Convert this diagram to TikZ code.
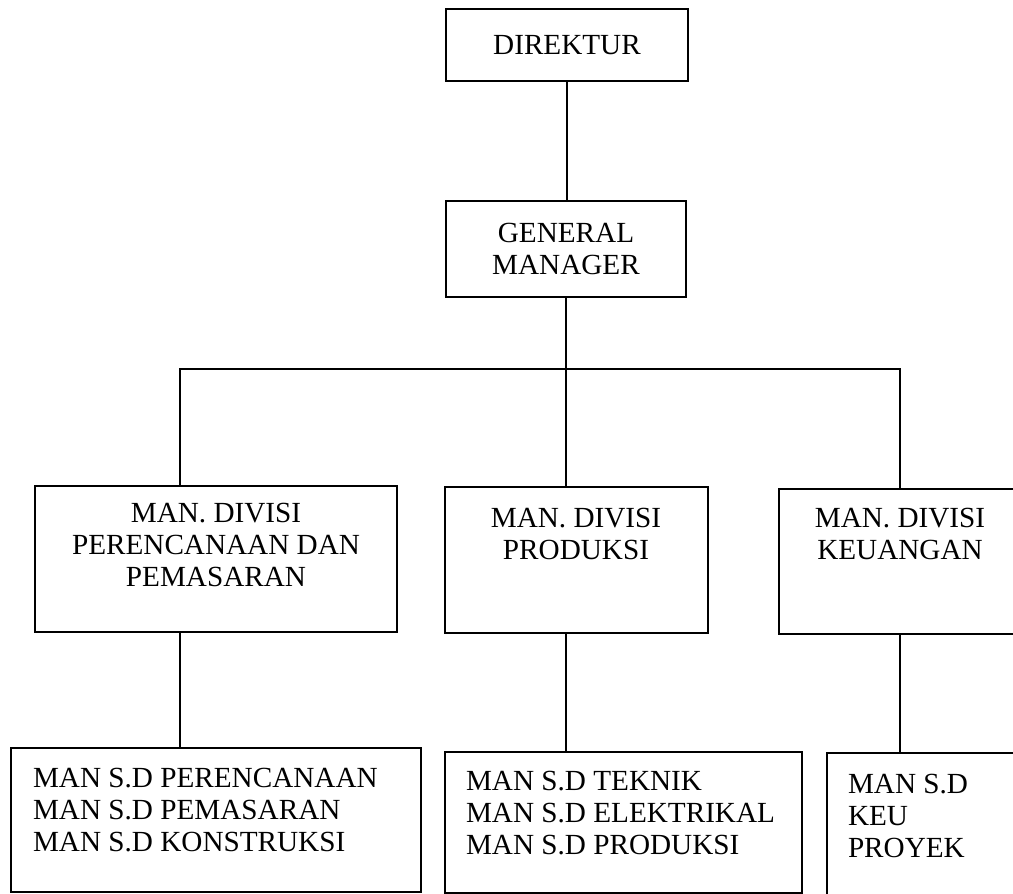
\documentclass[tikz,border=0pt]{standalone}
\usepackage{fontspec}
\setmainfont{Liberation Serif}
\usetikzlibrary{positioning}

\begin{document}
\begin{tikzpicture}[
  x=0.5pt, y=-0.5pt,
  font=\fontsize{14.6}{16}\selectfont,
  line width=1pt,
  box/.style={draw, rectangle, align=center, inner sep=0pt},
  ctext/.style={align=center, inner sep=0pt},
  ltext/.style={align=left, inner sep=0pt, anchor=west},
]
  \useasboundingbox (0,0) rectangle (1013,894);
  \clip (0,0) rectangle (1013,894);

  % ---------------- top ----------------
  \node[box, minimum width=121pt, minimum height=36pt] (dir) at (567,45) {DIREKTUR};
  \node[box, minimum width=120pt, minimum height=48pt] (gm) at (566,249) {GENERAL\\ MANAGER};

  % ---------------- divisions ----------------
  \node[box, minimum width=181pt, minimum height=73pt] (div1) at (216,559) {};
  \node[ctext] (div1t) at (216,545) {MAN. DIVISI\\ PERENCANAAN DAN\\ PEMASARAN};
  \node[box, minimum width=131.5pt, minimum height=73pt] (div2) at (576.5,560) {};
  \node[ctext] (div2t) at (576,533.5) {MAN. DIVISI\\ PRODUKSI};
  \node[box, minimum width=121pt, minimum height=72.5pt] (div3) at (900,561.5) {};
  \node[ctext] (div3t) at (900,534) {MAN. DIVISI\\ KEUANGAN};

  % ---------------- sub divisions ----------------
  \node[box, minimum width=205pt, minimum height=72pt] (sd1) at (216,820) {};
  \node[ltext] (sd1t) at (32,810) {MAN S.D PERENCANAAN\\ MAN S.D PEMASARAN\\ MAN S.D KONSTRUKSI};
  \node[box, minimum width=178.5pt, minimum height=70.5pt] (sd2) at (623.5,822.5) {};
  \node[ltext] (sd2t) at (465,813) {MAN S.D TEKNIK\\ MAN S.D ELEKTRIKAL\\ MAN S.D PRODUKSI};
  \node[box, minimum width=111.5pt, minimum height=73.5pt] (sd3) at (938.5,826.5) {};
  \node[ltext] (sd3t) at (847,816) {MAN S.D\\ KEU\\ PROYEK};

  % ---------------- lines ----------------
  \coordinate (busL) at (180,369);
  \coordinate (busR) at (900,369);
  \draw (dir.south) -- (dir.south |- gm.north);
  \draw (gm.south) -- (gm.south |- busL);
  \draw (busL |- div1.north) -- (busL) -- (busR) -- (busR |- div3.north);
  \draw (gm.south |- busL) -- (gm.south |- div2.north);
  \draw (busL |- div1.south) -- (busL |- sd1.north);
  \draw (gm.south |- div2.south) -- (gm.south |- sd2.north);
  \draw (busR |- div3.south) -- (busR |- sd3.north);
\end{tikzpicture}
\end{document}
